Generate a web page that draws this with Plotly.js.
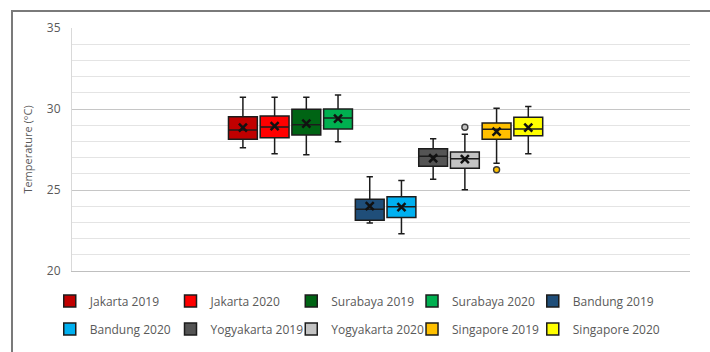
<!DOCTYPE html>
<html>
<head>
<meta charset="utf-8">
<script src="https://cdn.plot.ly/plotly-3.0.1.min.js"></script>
<style>
  html, body { margin: 0; padding: 0; background: #ffffff; }
  #chart { width: 710px; height: 352px; }
</style>
</head>
<body>
<div id="chart"></div>
<script>
// Daily temperature distribution per city and year (°C)
const series = ['Jakarta 2019', 'Jakarta 2020', 'Surabaya 2019', 'Surabaya 2020', 'Bandung 2019',
                'Bandung 2020', 'Yogyakarta 2019', 'Yogyakarta 2020', 'Singapore 2019', 'Singapore 2020'];
const colors = ['#c00000', '#ff0000', '#006414', '#00b050', '#1f4e79',
                '#00b0f0', '#545454', '#c3c3c3', '#ffc000', '#ffff00'];
const lowerWhisker = [27.61, 27.24, 27.18, 27.98, 22.96, 22.30, 25.66, 25.02, 26.65, 27.24];
const q1           = [28.13, 28.23, 28.40, 28.77, 23.13, 23.31, 26.46, 26.34, 28.13, 28.35];
const median       = [28.70, 28.89, 29.03, 29.44, 23.81, 23.97, 27.08, 26.93, 28.75, 28.77];
const q3           = [29.52, 29.57, 29.98, 30.00, 24.43, 24.59, 27.55, 27.35, 29.14, 29.49];
const upperWhisker = [30.72, 30.72, 30.72, 30.86, 25.82, 25.58, 28.17, 28.44, 30.04, 30.16];
const means        = [28.85, 28.95, 29.09, 29.40, 24.01, 23.95, 26.96, 26.91, 28.60, 28.85];
const outliers     = [[], [], [], [], [], [], [], [28.87], [26.25], []];

const yTicks = [20, 25, 30, 35];
const yTitle = 'Temperature (°C)';

const edge = '#1c1c1c';
const traces = [];

// one legend block per entry, laid out in a 5-column grid under the plot
const legendId = i => (i === 0 ? 'legend' : 'legend' + (i + 1));

series.forEach((name, i) => {
  traces.push({
    type: 'box',
    orientation: 'v',
    name: name,
    x: [i],
    q1: [q1[i]],
    median: [median[i]],
    q3: [q3[i]],
    lowerfence: [lowerWhisker[i]],
    upperfence: [upperWhisker[i]],
    boxpoints: false,
    width: 0.91,
    whiskerwidth: 0.22,
    fillcolor: colors[i],
    line: { color: edge, width: 1.5 },
    legend: legendId(i),
    hoverinfo: 'skip'
  });
});

// mean markers
traces.push({
  type: 'scatter',
  mode: 'markers',
  x: series.map((_, i) => i),
  y: means,
  marker: { symbol: 'x-thin-open', size: 8, color: '#111111', line: { width: 2.5, color: '#111111' } },
  showlegend: false,
  hoverinfo: 'skip'
});

// outlier points
series.forEach((name, i) => {
  if (!outliers[i].length) return;
  traces.push({
    type: 'scatter',
    mode: 'markers',
    x: outliers[i].map(() => i),
    y: outliers[i],
    marker: { symbol: 'circle', size: 6, color: colors[i], line: { width: 1.4, color: '#3a3a3a' } },
    showlegend: false,
    hoverinfo: 'skip'
  });
});

const layout = {
  width: 710,
  height: 352,
  margin: { l: 72, r: 20, t: 28, b: 81, autoexpand: false },
  paper_bgcolor: '#ffffff',
  plot_bgcolor: '#ffffff',
  font: { family: 'Open Sans, sans-serif', size: 12, color: '#595959' },
  showlegend: true,
  xaxis: {
    type: 'linear',
    range: [-5.39, 14.1],
    showgrid: false,
    zeroline: false,
    showticklabels: false,
    ticks: '',
    showline: true,
    linecolor: '#bfbfbf',
    linewidth: 1,
    fixedrange: true
  },
  yaxis: {
    range: [20, 35],
    tickvals: yTicks,
    ticktext: yTicks.map(String),
    showgrid: true,
    gridcolor: '#c6c6c6',
    gridwidth: 1,
    minor: { dtick: 1, tick0: 20, showgrid: true, gridcolor: '#e4e4e4', gridwidth: 1 },
    zeroline: false,
    showline: true,
    linecolor: '#d9d9d9',
    linewidth: 1,
    ticks: '',
    ticklabelstandoff: 8,
    tickfont: { size: 12, color: '#595959' },
    title: { text: yTitle, font: { size: 11, color: '#595959' }, standoff: 12 },
    fixedrange: true
  },
  shapes: [{
    type: 'path',
    xref: 'paper',
    yref: 'paper',
    path: 'M -0.0971,-0.40 L -0.0971,1.07 L 1.06,1.07',
    line: { color: '#7a7a7a', width: 2 }
  }]
};

const legendColumns = 5;
const legendX0 = -0.036, legendColStep = 0.1954;
const legendRowY = [-0.123, -0.239];
series.forEach((name, i) => {
  layout[legendId(i)] = {
    orientation: 'h',
    x: legendX0 + (i % legendColumns) * legendColStep,
    xanchor: 'left',
    y: legendRowY[Math.floor(i / legendColumns)],
    yanchor: 'middle',
    itemwidth: 30,
    bgcolor: 'rgba(0,0,0,0)',
    font: { family: 'Open Sans, sans-serif', size: 12, color: '#595959' }
  };
});

Plotly.newPlot('chart', traces, layout, { displayModeBar: false, staticPlot: true });
</script>
</body>
</html>
